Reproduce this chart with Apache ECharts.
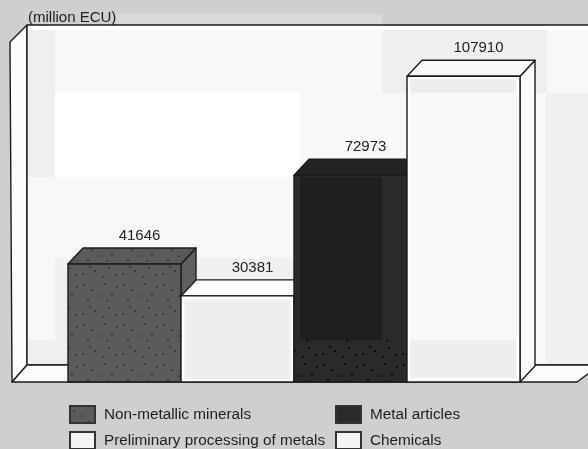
<!DOCTYPE html>
<html><head><meta charset="utf-8">
<style>html,body{margin:0;padding:0;background:#cfcfcf}#c{width:588px;height:449px}</style>
<script src="https://cdn.jsdelivr.net/npm/echarts@6/dist/echarts.min.js"></script>
</head><body><div id="c"></div>
<script>
const categories = ['Non-metallic minerals','Preliminary processing of metals','Metal articles','Chemicals'];
const values = [41646, 30381, 72973, 107910];
const unitLabel = '(million ECU)';
const fills = ['#5b5b5b','#ffffff','#2a2a2a','#ffffff'];
const insetFills = [null,'#eeeeee',null,'#f8f8f8'];
const topFills = ['#666666','#fbfbfb','#232323','#f8f8f8'];
const sideFills = ['#5f5f5f','#ffffff','#232323','#fbfbfb'];
const FONT = '"Liberation Sans", Arial, sans-serif';
const DX = 15, DY = -16;

// speckle textures for the grainy print
const dots = [[3,4],[11,9],[24,3],[31,14],[7,19],[18,15],[28,27],[36,6],[14,30],[2,33],[22,36],[35,34],[9,26],[26,20]];
function makeTile(bg, dot){
  const tile = document.createElement('canvas'); tile.width = tile.height = 40;
  const t = tile.getContext('2d'); t.fillStyle = bg; t.fillRect(0,0,40,40);
  t.fillStyle = dot; dots.forEach(d => t.fillRect(d[0],d[1],2,2));
  return {image: tile, repeat: 'repeat'};
}
const grain = makeTile(fills[0], '#3c3c3c');
const darkGrain = makeTile(fills[2], '#0a0a0a');

const chart = echarts.init(document.getElementById('c'), null, {renderer:'canvas'});
const line = {stroke:'#1c1c1c', lineWidth:1.4, lineJoin:'round'};
const poly = (pts, fill, z) => ({type:'polygon', z: z||0, shape:{points:pts}, style:Object.assign({fill}, line)});
const patch = (x,y,w,h,fill,z) => ({type:'rect', z: z||0, silent:true, shape:{x,y,width:w,height:h}, style:{fill}});

function renderBar(i){
  return function(params, api){
    const p = api.coord([api.value(0), api.value(1)]);
    const base = api.coord([api.value(0), 0]);
    const w = api.size([1,0])[0];
    const x0 = p[0]-w/2, x1 = p[0]+w/2, y0 = p[1], y1 = base[1];
    const kids = [
      {type:'polygon', shape:{points:[[x1,y0],[x1+DX,y0+DY],[x1+DX,y1+DY],[x1,y1]]}, style:Object.assign({fill:sideFills[i]}, line)},
      {type:'polygon', shape:{points:[[x0,y0],[x0+DX,y0+DY],[x1+DX,y0+DY],[x1,y0]]}, style:Object.assign({fill:i===0?grain:topFills[i]}, line)},
      {type:'rect', shape:{x:x0,y:y0,width:w,height:y1-y0}, style:Object.assign({fill:i===0?grain:fills[i]}, line)}
    ];
    if(insetFills[i]) kids.push({type:'rect', shape:{x:x0+3.5,y:y0+3.5,width:w-7,height:y1-y0-7}, style:{fill:insetFills[i]}});
    kids.push({type:'text', style:{text:String(api.value(1)), x:p[0]+DX, y:y0+DY-12, align:'center', verticalAlign:'middle', font:'15px '+FONT, fill:'#1e1e1e'}});
    return {type:'group', children:kids};
  };
}

const legendBase = {
  padding:0, itemWidth:25, itemHeight:17,
  icon:'rect', selectedMode:false,
  textStyle:{fontFamily:FONT, fontSize:15.3, color:'#1e1e1e', padding:[0,0,0,4]}
};
const legendLefts = [69, 69, 335, 335];
const legendTops = [405, 431, 405, 431];

chart.setOption({
  animation:false,
  backgroundColor:'#cfcfcf',
  grid:{left:68, right:68, top:42, bottom:67},
  xAxis:{type:'category', data:categories, show:false},
  yAxis:{type:'value', min:0, max:120000, show:false},
  legend: categories.map((c,i)=>Object.assign({left:legendLefts[i], top:legendTops[i], data:[c]}, legendBase)),
  series: categories.map((c,i)=>({
    name:c, type:'custom', z:2+i,
    renderItem:renderBar(i),
    encode:{x:0,y:1},
    itemStyle:{color:i===0?grain:(i===1||i===3?'#f4f4f4':fills[i]), borderColor:'#333', borderWidth:1},
    data:[[i, values[i]]]
  })),
  graphic:{elements:[
    patch(116,14,266,11,'#d9d9d9'),
    poly([[10,42],[27,25],[27,365],[12,382]],'#fcfcfc'),
    poly([[27,25],[600,25],[600,365],[27,365]],'#f8f8f8'),
    poly([[12,382],[27,365],[600,365],[577,382]],'#fbfbfb'),
    patch(28,26,560,4,'#ffffff',1),
    patch(28,30,27,147,'#efefef',1),
    patch(55,93,245,84,'#ffffff',1),
    patch(382,30,165,63,'#efefef',1),
    patch(546,93,42,271,'#f0f0f0',1),
    patch(55,258,240,106,'#f0f0f0',1),
    patch(28,340,40,24,'#efefef',1),
    patch(300,177,82,163,'#1f1f1f',30),
    patch(295,340,111,41,darkGrain,30),
    patch(410,79,106,14,'#eeeeee',30),
    patch(410,340,106,38,'#eeeeee',30),
    {type:'text', z:40, style:{text:unitLabel, x:28, y:18, verticalAlign:'middle', font:'15px '+FONT, fill:'#1e1e1e'}}
  ]}
});
</script></body></html>
